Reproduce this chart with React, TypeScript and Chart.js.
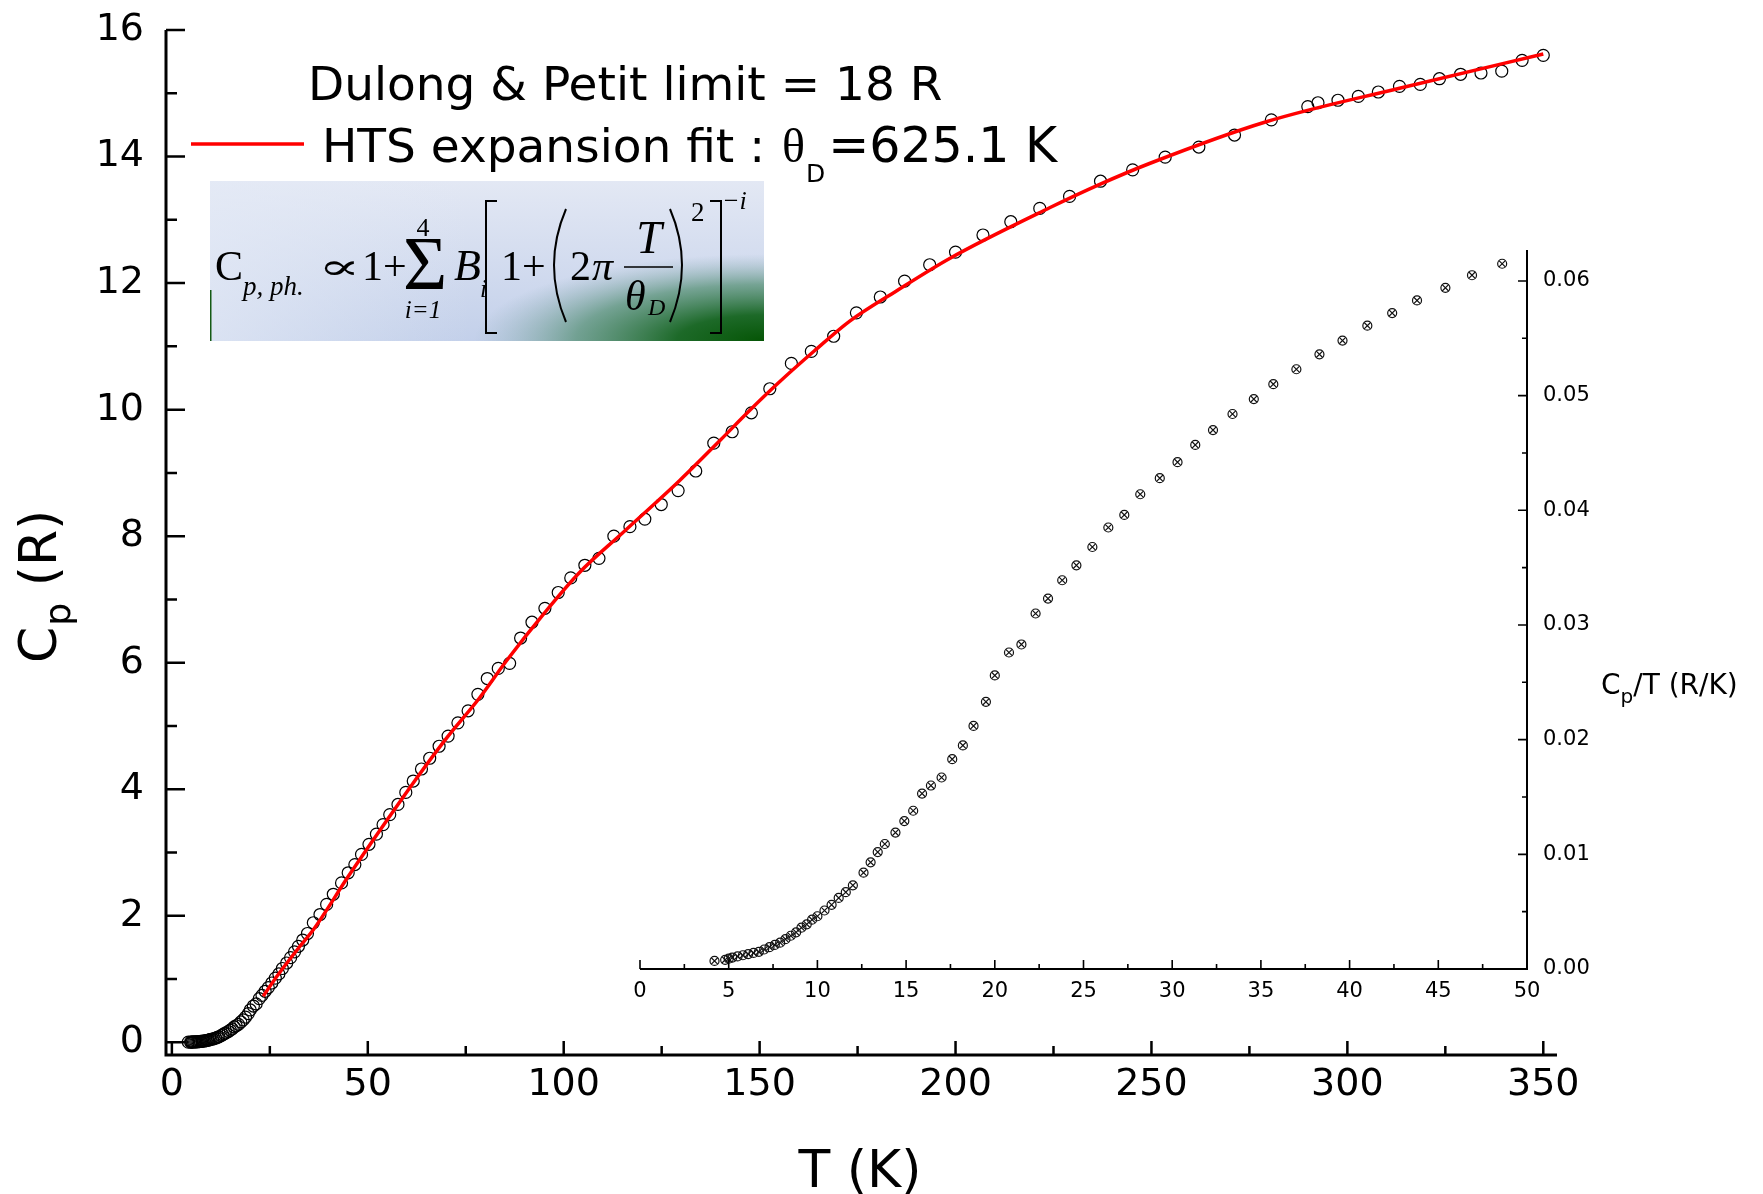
import React, { useEffect, useRef } from 'react';
import { Chart, registerables } from 'chart.js';
Chart.register(...registerables);

const W = 1763;
const H = 1194;

// ---------- main data: Cp (R) vs T (K) ----------
const MAIN_T = [
  4.2, 4.8, 5.0, 5.2, 5.5, 5.8, 6.1, 6.4, 6.7, 7.0,
  7.3, 7.6, 7.9, 8.2, 8.5, 8.8, 9.1, 9.4, 9.7, 10.0,
  10.4, 10.8, 11.2, 11.6, 12.0, 12.6, 13.0, 13.4, 13.8, 14.4,
  14.9, 15.4, 15.9, 16.4, 17.0, 17.6, 18.2, 18.8, 19.5, 20.0,
  20.8, 21.5, 22.3, 23.0, 23.8, 24.6, 25.5, 26.4, 27.3, 28.2,
  29.3, 30.3, 31.3, 32.3, 33.4, 34.6,
  36.1, 37.8, 39.5, 41.2, 43.3, 45.0, 46.7, 48.4, 50.3, 52.2,
  53.9, 55.6, 57.7, 59.7, 61.6, 63.7, 65.8, 68.2, 70.5, 73.0,
  75.6, 78.1, 80.5, 83.3, 86.2, 89.0, 91.9, 95.2, 98.6, 101.8,
  105.4, 109.0, 112.8, 116.9, 120.7, 124.9, 129.2, 133.7, 138.3, 143.0,
  147.9, 152.6, 158.1, 163.2, 168.9, 174.7, 180.8, 187.0, 193.4, 200.0,
  207.0, 214.1, 221.5, 229.1, 237.0, 245.2, 253.5, 262.1, 271.2, 280.6,
  289.9, 292.5, 297.6, 302.8, 307.9, 313.3, 318.6, 323.5, 328.9, 334.1,
  339.4, 344.6, 350.0,
];
const MAIN_CP = [
  0.003, 0.004, 0.0045, 0.005, 0.006, 0.007, 0.008, 0.009, 0.010, 0.012,
  0.014, 0.016, 0.018, 0.021, 0.025, 0.028, 0.033, 0.037, 0.042, 0.046,
  0.053, 0.060, 0.069, 0.078, 0.088, 0.106, 0.121, 0.137, 0.150, 0.171,
  0.192, 0.213, 0.243, 0.262, 0.284, 0.322, 0.355, 0.399, 0.454, 0.512,
  0.574, 0.608, 0.691, 0.743, 0.807, 0.866, 0.938, 1.016, 1.081, 1.167,
  1.254, 1.339, 1.430, 1.518, 1.617, 1.720,
  1.89, 2.02, 2.18, 2.34, 2.52, 2.68, 2.81, 2.97, 3.13, 3.29,
  3.44, 3.60, 3.76, 3.95, 4.13, 4.32, 4.49, 4.68, 4.84, 5.05,
  5.24, 5.50, 5.75, 5.91, 5.99, 6.39, 6.64, 6.86, 7.11, 7.34,
  7.54, 7.65, 8.00, 8.15, 8.27, 8.50, 8.72, 9.03, 9.47, 9.65,
  9.95, 10.33, 10.73, 10.92, 11.16, 11.53, 11.78, 12.03, 12.29, 12.49,
  12.76, 12.97, 13.18, 13.37, 13.61, 13.79, 13.99, 14.15, 14.34, 14.58,
  14.79, 14.85, 14.89, 14.95, 15.02, 15.11, 15.14, 15.23, 15.30, 15.32,
  15.35, 15.52, 15.60,
];

// ---------- HTS expansion fit ----------
const FIT_T = [23.3, 27, 32.7, 36.1, 45, 55, 61.6, 70, 78.6, 85.4, 95, 104.1, 115, 129.6, 140, 147.5, 155.1, 164, 173, 185, 198.5, 224, 236.8, 249.5, 279.3, 313.3, 350];
const FIT_CP = [0.73, 1.06, 1.52, 1.78, 2.62, 3.52, 4.10, 4.80, 5.45, 6.03, 6.78, 7.43, 8.05, 8.88, 9.52, 9.99, 10.44, 10.93, 11.40, 11.88, 12.39, 13.19, 13.56, 13.89, 14.55, 15.08, 15.62];

// ---------- inset data: Cp/T (R/K) vs T (K) ----------
const INSET_T = [
  4.2, 4.8, 5.0, 5.2, 5.5, 5.8, 6.1, 6.4, 6.7, 7.0,
  7.3, 7.6, 7.9, 8.2, 8.5, 8.8, 9.1, 9.4, 9.7, 10.0,
  10.4, 10.8, 11.2, 11.6, 12.0, 12.6, 13.0, 13.4, 13.8, 14.4,
  14.9, 15.4, 15.9, 16.4, 17.0, 17.6, 18.2, 18.8, 19.5, 20.0,
  20.8, 21.5, 22.3, 23.0, 23.8, 24.6, 25.5, 26.4, 27.3, 28.2,
  29.3, 30.3, 31.3, 32.3, 33.4, 34.6, 35.7, 37.0, 38.3, 39.6,
  41.0, 42.4, 43.8, 45.4, 46.9, 48.6,
];
const INSET_CPT = [
  0.0007, 0.0008, 0.0009, 0.0010, 0.0011, 0.0012, 0.0013, 0.0014, 0.0015, 0.0017,
  0.0019, 0.0021, 0.0023, 0.0026, 0.0029, 0.0032, 0.0036, 0.0039, 0.0043, 0.0046,
  0.0051, 0.0056, 0.0062, 0.0067, 0.0073, 0.0084, 0.0093, 0.0102, 0.0109, 0.0119,
  0.0129, 0.0138, 0.0153, 0.0160, 0.0167, 0.0183, 0.0195, 0.0212, 0.0233, 0.0256,
  0.0276, 0.0283, 0.0310, 0.0323, 0.0339, 0.0352, 0.0368, 0.0385, 0.0396, 0.0414,
  0.0428, 0.0442, 0.0457, 0.0470, 0.0484, 0.0497, 0.0510, 0.0523, 0.0536, 0.0548,
  0.0561, 0.0572, 0.0583, 0.0594, 0.0605, 0.0615,
];

// ---------- ticks ----------
const MAIN_X_LABELS = [0, 50, 100, 150, 200, 250, 300, 350];
const MAIN_X_MINOR = [25, 75, 125, 175, 225, 275, 325];
const MAIN_Y_LABELS = [0, 2, 4, 6, 8, 10, 12, 14, 16];
const MAIN_Y_MINOR = [1, 3, 5, 7, 9, 11, 13, 15];
const INSET_X_LABELS = [0, 5, 10, 15, 20, 25, 30, 35, 40, 45, 50];
const INSET_X_MINOR = [2.5, 7.5, 12.5, 17.5, 22.5, 27.5, 32.5, 37.5, 42.5, 47.5];
const INSET_Y_LABELS = [0, 0.01, 0.02, 0.03, 0.04, 0.05, 0.06];
const INSET_Y_MINOR = [0.005, 0.015, 0.025, 0.035, 0.045, 0.055];

// ---------- texts ----------
const LEGEND_LINE1 = 'Dulong & Petit limit = 18 R';
const LEGEND_LINE2_A = 'HTS expansion fit : ';
const LEGEND_LINE2_THETA = 'θ';
const LEGEND_LINE2_SUB = 'D';
const LEGEND_LINE2_B = '=625.1 K';
const X_TITLE = 'T (K)';
const Y_TITLE_MAIN = 'C';
const Y_TITLE_SUB = 'p';
const Y_TITLE_REST = ' (R)';
const INSET_TITLE_MAIN = 'C';
const INSET_TITLE_SUB = 'p';
const INSET_TITLE_REST = '/T (R/K)';

const SANS = '"DejaVu Sans", Verdana, sans-serif';
const SERIF = '"Liberation Serif", "Times New Roman", serif';
const SERIF2 = '"DejaVu Serif", serif';

// inset canvas placement
const IX = 560, IY = 220, IW = 1203, IH = 800;

function drawEquation(ctx: CanvasRenderingContext2D) {
  const x0 = 210, y0 = 181, x1 = 764, y1 = 341;
  ctx.save();
  const g = ctx.createLinearGradient(x0, y0, x0, y1);
  g.addColorStop(0, '#e3e8f4');
  g.addColorStop(1, '#c3d0ea');
  ctx.fillStyle = g;
  ctx.fillRect(x0, y0, x1 - x0, y1 - y0);
  const g2 = ctx.createLinearGradient(x0, 0, x0 + 260, 0);
  g2.addColorStop(0, 'rgba(228,234,246,0.7)');
  g2.addColorStop(1, 'rgba(228,234,246,0)');
  ctx.fillStyle = g2;
  ctx.fillRect(x0, y0, x1 - x0, y1 - y0);
  ctx.save();
  ctx.beginPath();
  ctx.rect(x0, y0, x1 - x0, y1 - y0);
  ctx.clip();
  ctx.translate(x1, y1);
  ctx.scale(1, 0.3);
  const rg = ctx.createRadialGradient(0, 0, 0, 0, 0, 290);
  rg.addColorStop(0, 'rgba(5,85,5,1)');
  rg.addColorStop(0.3, 'rgba(20,100,30,0.95)');
  rg.addColorStop(0.65, 'rgba(70,135,100,0.65)');
  rg.addColorStop(1, 'rgba(130,165,175,0)');
  ctx.fillStyle = rg;
  ctx.fillRect(-600, -1200, 600, 1200);
  ctx.restore();
  ctx.fillStyle = '#145a14';
  ctx.fillRect(x0, 290, 1.5, y1 - 290);

  ctx.fillStyle = '#000';
  ctx.textBaseline = 'alphabetic';
  const t = (s: string, x: number, y: number, font: string, align: CanvasTextAlign = 'left', sx = 1) => {
    ctx.save();
    ctx.translate(x, y);
    ctx.scale(sx, 1);
    ctx.font = font;
    ctx.textAlign = align;
    ctx.fillText(s, 0, 0);
    ctx.restore();
  };
  t('C', 215, 280, `42px ${SERIF}`);
  t('p, ph.', 243, 295, `italic 27px ${SERIF}`);
  t('∝', 318, 279, `36px ${SERIF2}`, 'left', 1.75);
  t('1+', 362, 280, `42px ${SERIF}`);
  t('Σ', 425, 289, `76px ${SERIF}`, 'center');
  t('4', 423, 236, `26px ${SERIF}`, 'center');
  t('i=1', 423, 318, `italic 25px ${SERIF}`, 'center');
  t('B', 454, 280, `italic 44px ${SERIF}`);
  t('i', 480, 297, `italic 25px ${SERIF}`);
  t('1+', 501, 280, `42px ${SERIF}`);
  t('2', 570, 280, `42px ${SERIF}`);
  t('π', 592, 280, `italic 42px ${SERIF}`);
  t('T', 649, 253, `italic 46px ${SERIF}`, 'center');
  t('θ', 625, 310, `italic 42px ${SERIF}`);
  t('D', 648, 315, `italic 24px ${SERIF}`);
  t('2', 691, 221, `27px ${SERIF}`);
  t('−i', 722, 209, `italic 26px ${SERIF}`);

  ctx.strokeStyle = '#000';
  ctx.lineWidth = 2;
  // left bracket
  ctx.beginPath();
  ctx.moveTo(497, 201); ctx.lineTo(486, 201); ctx.lineTo(486, 333); ctx.lineTo(497, 333);
  ctx.stroke();
  // right bracket
  ctx.beginPath();
  ctx.moveTo(710, 201); ctx.lineTo(721, 201); ctx.lineTo(721, 333); ctx.lineTo(710, 333);
  ctx.stroke();
  // parentheses
  ctx.beginPath();
  ctx.moveTo(566, 209); ctx.quadraticCurveTo(542, 265, 566, 322);
  ctx.stroke();
  ctx.beginPath();
  ctx.moveTo(670, 209); ctx.quadraticCurveTo(694, 265, 670, 322);
  ctx.stroke();
  // fraction bar
  ctx.lineWidth = 1.5;
  ctx.beginPath();
  ctx.moveTo(624, 267); ctx.lineTo(673, 267);
  ctx.stroke();
  ctx.restore();
}

const mainDecor = {
  id: 'mainDecor',
  afterDraw(chart: any) {
    const ctx: CanvasRenderingContext2D = chart.ctx;
    const { left, right, top, bottom } = chart.chartArea;
    const xs = chart.scales.x;
    const ys = chart.scales.y;
    ctx.save();
    ctx.strokeStyle = '#000';
    ctx.lineCap = 'butt';
    // ticks (inward)
    ctx.lineWidth = 2.5;
    ctx.beginPath();
    MAIN_X_LABELS.forEach((v) => { const p = xs.getPixelForValue(v); ctx.moveTo(p, bottom); ctx.lineTo(p, bottom - 14); });
    MAIN_X_MINOR.forEach((v) => { const p = xs.getPixelForValue(v); ctx.moveTo(p, bottom); ctx.lineTo(p, bottom - 9); });
    MAIN_Y_LABELS.forEach((v) => { const p = ys.getPixelForValue(v); ctx.moveTo(left, p); ctx.lineTo(left + 19, p); });
    MAIN_Y_MINOR.forEach((v) => { const p = ys.getPixelForValue(v); ctx.moveTo(left, p); ctx.lineTo(left + 11, p); });
    ctx.stroke();
    // axes
    ctx.lineWidth = 3;
    ctx.beginPath();
    ctx.moveTo(left, top);
    ctx.lineTo(left, bottom);
    ctx.lineTo(right, bottom);
    ctx.stroke();

    // axis titles
    ctx.fillStyle = '#000';
    ctx.textBaseline = 'alphabetic';
    ctx.textAlign = 'center';
    ctx.font = `52px ${SANS}`;
    ctx.fillText(X_TITLE, 860, 1187);

    ctx.save();
    ctx.translate(56, 663);
    ctx.rotate(-Math.PI / 2);
    ctx.textAlign = 'left';
    ctx.font = `52px ${SANS}`;
    ctx.fillText(Y_TITLE_MAIN, 0, 0);
    let w = ctx.measureText(Y_TITLE_MAIN).width;
    ctx.font = `36px ${SANS}`;
    ctx.fillText(Y_TITLE_SUB, w + 1, 14);
    w += ctx.measureText(Y_TITLE_SUB).width + 1;
    ctx.font = `52px ${SANS}`;
    ctx.fillText(Y_TITLE_REST, w, 0);
    ctx.restore();

    // legend
    ctx.textAlign = 'left';
    ctx.font = `47px ${SANS}`;
    ctx.fillText(LEGEND_LINE1, 308, 100);
    ctx.strokeStyle = '#ff0000';
    ctx.lineWidth = 3.5;
    ctx.beginPath();
    ctx.moveTo(191, 144);
    ctx.lineTo(304, 144);
    ctx.stroke();
    let x = 322;
    ctx.font = `47px ${SANS}`;
    ctx.fillText(LEGEND_LINE2_A, x, 162);
    x += ctx.measureText(LEGEND_LINE2_A).width + 2;
    ctx.font = `48px ${SERIF}`;
    ctx.fillText(LEGEND_LINE2_THETA, x, 162);
    x += ctx.measureText(LEGEND_LINE2_THETA).width + 1;
    ctx.font = `25px ${SANS}`;
    ctx.fillText(LEGEND_LINE2_SUB, x, 182);
    x += ctx.measureText(LEGEND_LINE2_SUB).width + 3;
    ctx.font = `49px ${SANS}`;
    ctx.fillText(LEGEND_LINE2_B, x, 162);

    drawEquation(ctx);
    ctx.restore();
  },
};

const insetDecor = {
  id: 'insetDecor',
  afterDraw(chart: any) {
    const ctx: CanvasRenderingContext2D = chart.ctx;
    const { left, right, top, bottom } = chart.chartArea;
    const xs = chart.scales.x;
    const ys = chart.scales.y;
    ctx.save();
    ctx.strokeStyle = '#000';
    ctx.lineWidth = 1.6;
    ctx.beginPath();
    INSET_X_LABELS.forEach((v) => { const p = xs.getPixelForValue(v); ctx.moveTo(p, bottom); ctx.lineTo(p, bottom - 9); });
    INSET_X_MINOR.forEach((v) => { const p = xs.getPixelForValue(v); ctx.moveTo(p, bottom); ctx.lineTo(p, bottom - 5); });
    INSET_Y_LABELS.forEach((v) => { const p = ys.getPixelForValue(v); ctx.moveTo(right, p); ctx.lineTo(right - 9, p); });
    INSET_Y_MINOR.forEach((v) => { const p = ys.getPixelForValue(v); ctx.moveTo(right, p); ctx.lineTo(right - 5, p); });
    ctx.stroke();
    ctx.lineWidth = 2;
    ctx.beginPath();
    ctx.moveTo(left, bottom);
    ctx.lineTo(right, bottom);
    ctx.lineTo(right, top);
    ctx.stroke();

    ctx.fillStyle = '#000';
    ctx.textAlign = 'left';
    ctx.textBaseline = 'alphabetic';
    let x = 1601 - IX;
    const y = 694 - IY;
    ctx.font = `28px ${SANS}`;
    ctx.fillText(INSET_TITLE_MAIN, x, y);
    x += ctx.measureText(INSET_TITLE_MAIN).width;
    ctx.font = `20px ${SANS}`;
    ctx.fillText(INSET_TITLE_SUB, x, y + 9);
    x += ctx.measureText(INSET_TITLE_SUB).width;
    ctx.font = `28px ${SANS}`;
    ctx.fillText(INSET_TITLE_REST, x, y);
    ctx.restore();
  },
};

const zeroPad = (s: any) => {
  s.paddingTop = 0;
  s.paddingBottom = 0;
  s.paddingLeft = 0;
  s.paddingRight = 0;
};

export default function App() {
  const mainRef = useRef<HTMLCanvasElement>(null);
  const insetRef = useRef<HTMLCanvasElement>(null);

  useEffect(() => {
    Chart.defaults.font.family = SANS;
    const mainChart = new Chart(mainRef.current as HTMLCanvasElement, {
      type: 'scatter',
      data: {
        datasets: [
          {
            label: 'HTS expansion fit',
            data: FIT_T.map((t, i) => ({ x: t, y: FIT_CP[i] })),
            showLine: true,
            borderColor: '#ff0000',
            backgroundColor: '#ff0000',
            borderWidth: 3.5,
            pointRadius: 0,
            cubicInterpolationMode: 'monotone',
            order: 0,
          } as any,
          {
            label: 'Cp',
            data: MAIN_T.map((t, i) => ({ x: t, y: MAIN_CP[i] })),
            pointStyle: 'circle',
            pointRadius: 6,
            borderColor: '#000',
            borderWidth: 1.2,
            backgroundColor: 'rgba(0,0,0,0)',
            order: 1,
          },
        ],
      },
      options: {
        responsive: false,
        animation: false,
        devicePixelRatio: 1,
        layout: { padding: { left: 0, top: 30, right: W - 1557, bottom: 0 } },
        plugins: { legend: { display: false }, tooltip: { enabled: false } },
        scales: {
          x: {
            type: 'linear',
            min: -1.5,
            max: 353.5,
            grid: { display: false, drawTicks: false },
            border: { display: false },
            afterBuildTicks: (s: any) => { s.ticks = MAIN_X_LABELS.map((v) => ({ value: v })); },
            afterFit: (s: any) => { s.height = H - 1055; zeroPad(s); },
            ticks: { autoSkip: false, maxRotation: 0, minRotation: 0, padding: 7, color: '#000', font: { size: 38, family: SANS }, callback: (v: any) => String(v) },
          },
          y: {
            type: 'linear',
            min: -0.2,
            max: 16,
            grid: { display: false, drawTicks: false },
            border: { display: false },
            afterBuildTicks: (s: any) => { s.ticks = MAIN_Y_LABELS.map((v) => ({ value: v })); },
            afterFit: (s: any) => { s.width = 166; zeroPad(s); },
            ticks: { autoSkip: false, padding: 22, color: '#000', font: { size: 38, family: SANS }, callback: (v: any) => String(v) },
          },
        },
      },
      plugins: [mainDecor],
    });

    const insetChart = new Chart(insetRef.current as HTMLCanvasElement, {
      type: 'scatter',
      data: {
        datasets: [
          {
            label: 'Cp/T circle',
            data: INSET_T.map((t, i) => ({ x: t, y: INSET_CPT[i] })),
            pointStyle: 'circle',
            pointRadius: 4.5,
            borderColor: '#111',
            borderWidth: 1.2,
            backgroundColor: 'rgba(0,0,0,0)',
          },
          {
            label: 'Cp/T cross',
            data: INSET_T.map((t, i) => ({ x: t, y: INSET_CPT[i] })),
            pointStyle: 'crossRot',
            pointRadius: 4.5,
            borderColor: '#111',
            borderWidth: 1.2,
            backgroundColor: 'rgba(0,0,0,0)',
          },
        ],
      },
      options: {
        responsive: false,
        animation: false,
        devicePixelRatio: 1,
        layout: { padding: { left: 80, top: 30, right: 0, bottom: 0 } },
        plugins: { legend: { display: false }, tooltip: { enabled: false } },
        scales: {
          x: {
            type: 'linear',
            min: 0,
            max: 50,
            grid: { display: false, drawTicks: false },
            border: { display: false },
            afterBuildTicks: (s: any) => { s.ticks = INSET_X_LABELS.map((v) => ({ value: v })); },
            afterFit: (s: any) => { s.height = IH - 749; zeroPad(s); },
            ticks: { autoSkip: false, maxRotation: 0, minRotation: 0, padding: 10, color: '#000', font: { size: 21, family: SANS }, callback: (v: any) => String(v) },
          },
          y: {
            type: 'linear',
            position: 'right',
            min: 0,
            max: 0.0627,
            grid: { display: false, drawTicks: false },
            border: { display: false },
            afterBuildTicks: (s: any) => { s.ticks = INSET_Y_LABELS.map((v) => ({ value: v })); },
            afterFit: (s: any) => { s.width = IW - 967; zeroPad(s); },
            ticks: { autoSkip: false, padding: 16, color: '#000', font: { size: 21, family: SANS }, callback: (v: any) => Number(v).toFixed(2) },
          },
        },
      },
      plugins: [insetDecor],
    });

    return () => {
      mainChart.destroy();
      insetChart.destroy();
    };
  }, []);

  return (
    <div style={{ position: 'absolute', left: 0, top: 0, width: W, height: H, background: '#fff', overflow: 'hidden' }}>
      <canvas ref={mainRef} width={W} height={H} style={{ position: 'absolute', left: 0, top: 0, width: W, height: H }} />
      <canvas ref={insetRef} width={IW} height={IH} style={{ position: 'absolute', left: IX, top: IY, width: IW, height: IH }} />
    </div>
  );
}
